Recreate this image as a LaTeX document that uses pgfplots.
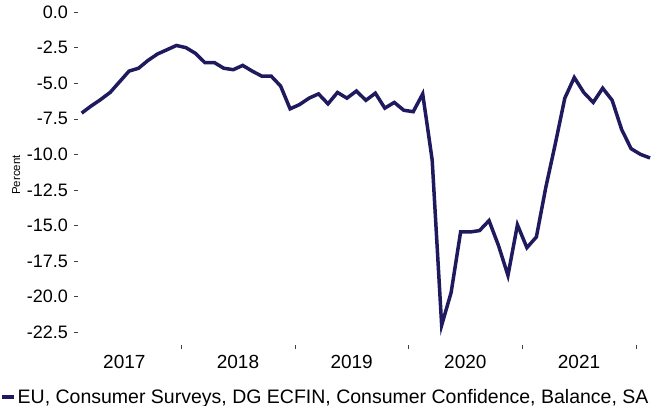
\documentclass[border=0pt]{standalone}
\usepackage{pgfplots}
\pgfplotsset{compat=1.18}
\usepackage{fontspec}
\setmainfont{Liberation Sans}
\definecolor{navy}{RGB}{31,26,94}
\pgfplotstableread{
x y
1.5 -7.1
2.5 -6.6
3.5 -6.15
4.5 -5.65
5.5 -4.9
6.5 -4.15
7.5 -3.95
8.5 -3.4
9.5 -2.95
10.5 -2.65
11.5 -2.35
12.5 -2.5
13.5 -2.9
14.5 -3.55
15.5 -3.55
16.5 -3.95
17.5 -4.05
18.5 -3.75
19.5 -4.15
20.5 -4.5
21.5 -4.5
22.5 -5.2
23.5 -6.8
24.5 -6.5
25.5 -6.05
26.5 -5.75
27.5 -6.45
28.5 -5.65
29.5 -6.05
30.5 -5.55
31.5 -6.2
32.5 -5.7
33.5 -6.75
34.5 -6.35
35.5 -6.9
36.5 -7.0
37.5 -5.75
38.5 -10.4
39.5 -22.0
40.5 -19.7
41.5 -15.45
42.5 -15.45
43.5 -15.35
44.5 -14.65
45.5 -16.4
46.5 -18.5
47.5 -14.95
48.5 -16.55
49.5 -15.8
50.5 -12.3
51.5 -9.25
52.5 -6.05
53.5 -4.6
54.5 -5.65
55.5 -6.35
56.5 -5.35
57.5 -6.2
58.5 -8.25
59.5 -9.6
60.5 -10.0
61.5 -10.25
}\datatable
\begin{document}
\begin{tikzpicture}
\begin{axis}[
  at={(0pt,0pt)}, anchor=south west,
  scale only axis,
  width=573pt, height=340.3pt,
  xmin=1.11, xmax=61.6,
  ymin=-23.4, ymax=0.5,
  axis lines=left,
  axis line style={draw=none},
  tick align=outside,
  major tick length=4pt,
  tick style={black!75, line width=0.6pt},
  ytick={0,-2.5,-5,-7.5,-10,-12.5,-15,-17.5,-20,-22.5},
  yticklabel style={font=\fontsize{18}{20}\selectfont, inner sep=0pt, xshift=-6pt},
  /pgf/number format/assume math mode=true,
  /pgf/number format/.cd, fixed, fixed zerofill, precision=1,
  /pgfplots/.cd,
  xtick={12,24,36,48,60},
  xticklabels={},
  extra x ticks={6,18,30,42,54},
  extra x tick labels={2017,2018,2019,2020,2021},
  extra x tick style={major tick length=0pt, xticklabel style={font=\fontsize{19}{21}\selectfont, inner sep=0pt, yshift=-10pt}},
  ylabel={Percent},
  ylabel style={font=\fontsize{11.5}{13}\selectfont, yshift=3pt},
  legend style={at={(-0.1361,-0.1522)}, anchor=west, draw=none, fill=none, inner sep=0pt,
    nodes={inner sep=0pt}, font=\fontsize{19.5}{21}\selectfont, column sep=2pt},
  legend cell align=left,
  legend image code/.code={\draw[#1, line width=3.5pt] (0pt,0pt) -- (12pt,0pt);},
]
\addplot[navy, line width=3.5pt, line join=miter] table[x=x,y=y]{\datatable};
\addlegendentry{EU, Consumer Surveys, DG ECFIN, Consumer Confidence, Balance, SA}
\end{axis}
\pgfresetboundingbox
\path[use as bounding box] (-78pt,-60.8pt) rectangle (573pt,345.2pt);
\end{tikzpicture}
\end{document}
